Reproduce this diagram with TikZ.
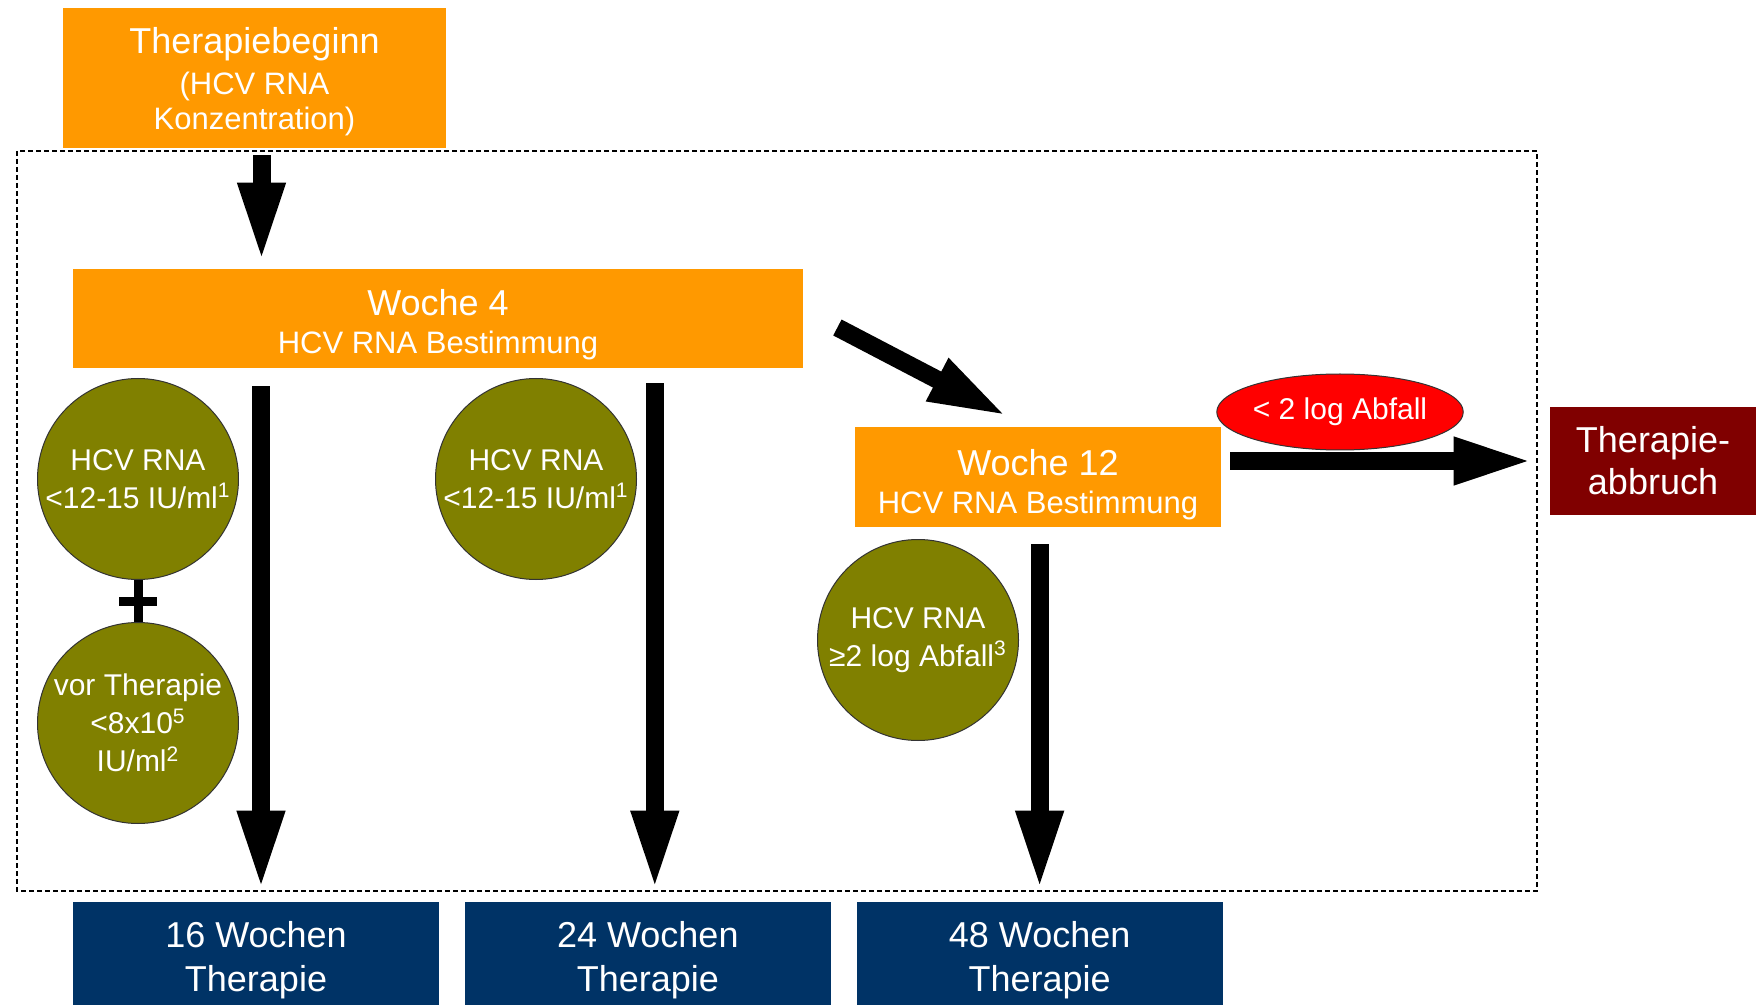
\documentclass[tikz,border=0pt]{standalone}
\usepackage{fontspec}
\setmainfont{Liberation Sans}
\usepackage{tikz}
\usetikzlibrary{arrows.meta, positioning, shapes.geometric, calc}
\definecolor{boxorange}{HTML}{FF9900}
\definecolor{hcvolive}{HTML}{808000}
\definecolor{stopred}{HTML}{800000}
\definecolor{weeknavy}{HTML}{003366}
\definecolor{signalred}{HTML}{FF0000}

\begin{document}
\begin{tikzpicture}[x=0.5pt, y=-0.5pt,
    box/.style={fill=boxorange, text=white, align=center, inner sep=0pt,
      font=\fontsize{15.5}{19}\selectfont},
    result/.style={circle, fill=hcvolive, draw=black!80, line width=0.5pt,
      text=white, align=center, inner sep=0pt, minimum size=100.5pt,
      font=\fontsize{15}{19}\selectfont},
    weeks/.style={fill=weeknavy, text=white, align=center, inner sep=0pt,
      minimum width=183pt, minimum height=51.5pt,
      font=\fontsize{18}{22}\selectfont},
    bigarrow/.style={line width=9pt, -{Triangle[length=40pt, width=21.5pt]}},
    plusbar/.style={line width=4.5pt},
    frame/.style={line width=0.9pt, dash pattern=on 2.5pt off 1.5pt}]
  \useasboundingbox (0,0) rectangle (1756,1005);
  \draw[frame] (17,151) rectangle (1537,891);

  \node[box, minimum width=191.5pt, minimum height=70pt,
    font=\fontsize{15.5}{17.5}\selectfont] (TB) at (254.5,78)
    {\rule{0pt}{16.3pt}{\fontsize{18}{20}\selectfont Therapiebeginn}\\[3pt](HCV RNA\\Konzentration)};
  \node[box, minimum width=365pt, minimum height=49.5pt] (W4) at (438,318.5)
    {\rule{0pt}{18.8pt}{\fontsize{18}{20}\selectfont Woche 4}\\HCV RNA Bestimmung};
  \node[box, minimum width=183pt, minimum height=50pt] (W12) at (1038,477)
    {\rule{0pt}{20.3pt}{\fontsize{18}{20}\selectfont Woche 12}\\HCV RNA Bestimmung};

  \node[result] (C1) at (138,479) {HCV RNA\\<12-15 IU/ml\textsuperscript{1}};
  \node[result, below=21pt of C1] (C2)
    {vor Therapie\\<8x10\textsuperscript{5}\\IU/ml\textsuperscript{2}};
  \node[result] (C3) at (536,479) {HCV RNA\\<12-15 IU/ml\textsuperscript{1}};
  \node[result] (C4) at (918,640) {HCV RNA\\≥2 log Abfall\textsuperscript{3}};

  \node[ellipse, fill=signalred, draw=black!80, line width=0.5pt, text=white,
    inner sep=0pt, minimum width=121pt, minimum height=38pt,
    font=\fontsize{15}{19}\selectfont] (drop) at (1340,412) {< 2 log Abfall};
  \node[fill=stopred, text=white, align=center, inner sep=0pt,
    minimum width=103pt, minimum height=54pt,
    font=\fontsize{18}{21}\selectfont] (TA) at (1653,461) {Therapie-\\abbruch};

  \node[weeks] (B1) at (256,953.5) {\rule{0pt}{19.8pt}16 Wochen\\Therapie};
  \node[weeks, right=12.5pt of B1] (B2) {\rule{0pt}{19.8pt}24 Wochen\\Therapie};
  \node[weeks, right=12.5pt of B2] (B3) {\rule{0pt}{19.8pt}48 Wochen\\Therapie};

  % plus between the two conditions
  \draw[plusbar] (C1.south) -- (C2.north);
  \draw[plusbar] ($(C1.south)!.5!(C2.north)+(-9.5pt,0)$) -- ++(19pt,0);

  % arrows
  \draw[bigarrow] ($(TB.south)+(3.5pt,-3.5pt)$) -- ($(TB.south |- W4.north)+(3.5pt,3pt)$);
  \draw[bigarrow] ($(B1.north |- W4.south)+(2.5pt,-9pt)$) -- ($(B1.north)+(2.5pt,5.5pt)$);
  \draw[bigarrow] ($(B2.north |- W4.south)+(3.5pt,-7.5pt)$) -- ($(B2.north)+(3.5pt,5.5pt)$);
  \draw[bigarrow] ($(B3.north |- W12.south)+(0,-8.5pt)$) -- ($(B3.north)+(0,5.5pt)$);
  \draw[bigarrow] ($(W4.east)+(17pt,-4.5pt)$) -- ($(W12.north)+(-15pt,5pt)$);
  \draw[bigarrow] ($(W12.east |- TA.west)+(4.5pt,0)$) -- ($(TA.west)+(-8pt,0)$);
\end{tikzpicture}
\end{document}
